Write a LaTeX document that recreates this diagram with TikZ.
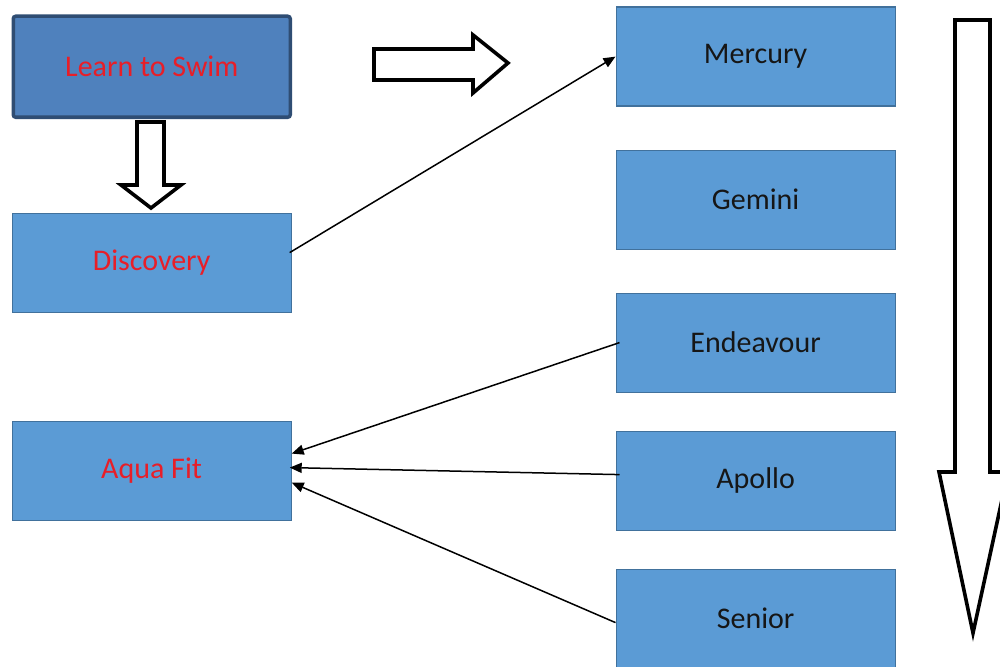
\documentclass[tikz,border=0pt]{standalone}
\usepackage{fontspec}
\setmainfont{Carlito}
\usetikzlibrary{arrows.meta,calc}
\definecolor{boxfill}{HTML}{5B9BD5}
\definecolor{boxline}{HTML}{41719C}
\definecolor{darkfill}{HTML}{4F81BD}
\definecolor{darkline}{HTML}{2F4D73}
\definecolor{redtext}{RGB}{232,30,40}
\definecolor{darktext}{RGB}{22,22,22}
\begin{document}
\begin{tikzpicture}[x=1pt,y=-1pt,
  box/.style={draw=boxline, line width=1.2pt, fill=boxfill, minimum width=279pt,
    minimum height=99pt, inner sep=0pt, font=\fontsize{30}{36}\selectfont,
    text=darktext, anchor=north west},
  redbox/.style={box, text=redtext},
  topbox/.style={redbox, fill=darkfill, draw=darkline, line width=3.5pt,
    rounded corners=2.5pt, minimum width=277pt, minimum height=101pt},
  blockarrow/.style={draw=black, fill=white, line width=3.6pt, line join=miter},
  conn/.style={draw=black, line width=1.5pt, -{Triangle[length=12pt,width=10pt]}}]
\useasboundingbox (0,0) rectangle (1000,666);
\clip (0,0) rectangle (1000,666);
\fill[white] (0,0) rectangle (1000,666);

% left column
\node[topbox] (learn) at (11.5,14.5) {Learn to Swim};
\node[redbox] (disc) at (11.5,212.5) {Discovery};
\node[redbox] (aqua) at (11.5,420.5) {Aqua Fit};

% right column
\node[box] (merc) at (615.5,6.5) {Mercury};
\node[box] (gem) at (615.5,149.5) {Gemini};
\node[box] (ende) at (615.5,292.5) {Endeavour};
\node[box] (apol) at (615.5,430.5) {Apollo};
\node[box] (seni) at (615.5,568.5) {Senior};

% block arrows
\path[blockarrow] (137,122) -- (164,122) -- (164,185) -- (181,185) -- (151,208)
  -- (121,185) -- (137,185) -- cycle;
\path[blockarrow] (374,49) -- (473,49) -- (473,35) -- (508,63) -- (473,93)
  -- (473,80) -- (374,80) -- cycle;
\path[blockarrow] (955,20) -- (990,20) -- (990,472) -- (1008,472) -- (973,633)
  -- (939,472) -- (955,472) -- cycle;

% connectors
\draw[conn] ($(disc.east)+(-2,-10)$) -- (merc.west);
\draw[conn] ($(ende.west)+(4,0)$) -- ($(aqua.east)+(0,-17)$);
\draw[conn] ($(apol.west)+(4,-6)$) -- ($(aqua.east)+(-2,-3)$);
\draw[conn] ($(seni.west)+(0,4)$) -- ($(aqua.east)+(0,12)$);
\end{tikzpicture}
\end{document}
